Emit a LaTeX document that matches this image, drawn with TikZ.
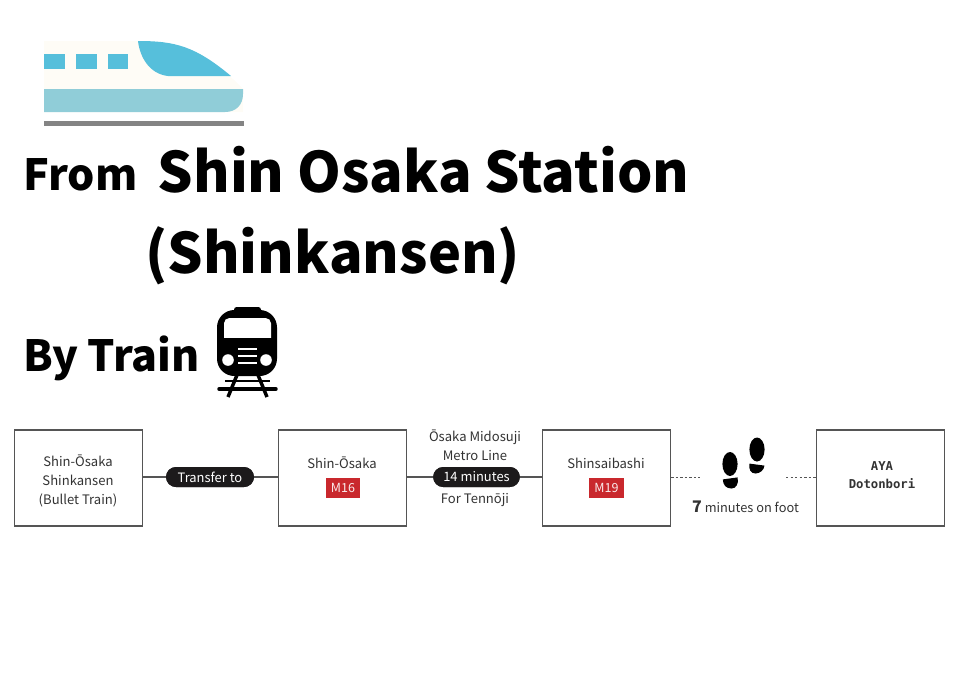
\documentclass[tikz,border=0pt]{standalone}
\usepackage{fontspec}
\setmainfont{Noto Sans CJK JP}
\newfontfamily\monofont{DejaVu Sans Mono}
\usepackage{tikz}

\definecolor{trainblue}{HTML}{56BFDB}
\definecolor{stripeblue}{HTML}{90CDD8}
\definecolor{railgrey}{HTML}{848484}
\definecolor{bodycream}{HTML}{FEFCF6}
\definecolor{tagred}{HTML}{C9282D}
\definecolor{pillblack}{HTML}{1C1A1B}
\definecolor{boxgrey}{HTML}{555555}
\definecolor{textgrey}{HTML}{333333}

\tikzset{
  stopbox/.style={draw=boxgrey,line width=.9pt,fill=white,minimum width=96pt,minimum height=72pt,inner sep=0pt},
  pill/.style={rounded corners=7.5pt,fill=pillblack,text=white,font=\fontsize{9.7}{11}\selectfont,minimum height=15pt,inner sep=0pt},
  tag/.style={fill=tagred,text=white!90!tagred,font=\fontsize{9.4}{11}\selectfont,minimum height=15pt,inner sep=0pt},
  label/.style={text=textgrey,font=\fontsize{9.8}{14.4}\selectfont,align=center,inner sep=0pt},
  title/.style={anchor=base west,inner sep=0pt,text=black,font=\fontsize{41.8}{50}\selectfont\bfseries},
  subtitle/.style={anchor=base west,inner sep=0pt,text=black,font=\fontsize{32.2}{36}\selectfont\bfseries},
  link/.style={draw=boxgrey,line width=.9pt},
  walk/.style={draw=boxgrey,line width=.7pt,dash pattern=on 1.8pt off 1.6pt}
}

\begin{document}
\begin{tikzpicture}[x=.75pt,y=-.75pt]
\useasboundingbox (0,0) rectangle (959,683);

% bullet train
\fill[bodycream] (44,41) -- (138,41) .. controls (190,41) and (215,60) .. (243,89) -- (243,112) -- (44,112) -- cycle;
\fill[trainblue] (44,54) rectangle (65,69);
\fill[trainblue] (76,54) rectangle (97,69);
\fill[trainblue] (108,54) rectangle (128,69);
\fill[trainblue] (138,41) .. controls (175,41) and (195,46) .. (231,76) -- (168,76) .. controls (150,74) and (140,58) .. cycle;
\fill[stripeblue] (44,89) -- (243,89) -- (243,94) .. controls (243,105) and (236,112) .. (225,112) -- (44,112) -- cycle;
\fill[railgrey] (44,121) rectangle (244,126);

% titles
\node[subtitle] (from) at (23,190) {From};
\node[title] (station) at (157.5,192) {Shin Osaka Station};
\node[title] (shinkansen) at (145,273) {(Shinkansen)};
\node[subtitle] (bytrain) at (23,371) {By Train};

% local train
\fill[black,rounded corners=2pt] (234,307) rectangle (261,314);
\fill[black,rounded corners=13pt] (217,310) rectangle (277,376);
\fill[white,rounded corners=4pt] (224,318) rectangle (271,345);
\fill[black] (222,338) rectangle (273,346);
\fill[white] (228,360) circle (5.8);
\fill[white] (266,360) circle (5.8);
\foreach \y in {349,356,363}
  \draw[white,line width=1pt] (238,\y) -- (257,\y);
\draw[black,line width=2.6pt] (237,375) -- (228,397);
\draw[black,line width=2.6pt] (258,375) -- (267,397);
\draw[black,line width=2pt] (225,381) -- (270,381);
\draw[black,line width=2.6pt,line cap=round] (219,389) -- (276,389);

% stops
\node[stopbox] (bullet) at (78.5,478) {};
\node[stopbox] (shinosaka) at (342.5,478) {};
\node[stopbox] (shinsaibashi) at (606.5,478) {};
\node[stopbox] (aya) at (880.5,478) {};

\node[label] (bullettext) at (78,481) {Shin-Ōsaka\\Shinkansen\\(Bullet Train)};
\node[label] (shinosakatext) at (342,463) {Shin-Ōsaka};
\node[tag,minimum width=25.5pt] (m16) at (343,488) {M16};
\node[label] (shinsaibashitext) at (606,463) {Shinsaibashi};
\node[tag,minimum width=26pt] (m19) at (606.5,488) {M19};
\node[label,font=\fontsize{9.2}{13.6}\selectfont\monofont\bfseries] (ayatext) at (882,475.5) {AYA\\Dotonbori};

% connectors
\node[pill,minimum width=66pt] (transfer) at (210,477) {Transfer to};
\node[pill,minimum width=65pt] (minutes) at (476.5,477) {14 minutes};
\draw[link] (bullet.east |- transfer) -- (transfer);
\draw[link] (transfer) -- (shinosaka.west |- transfer);
\draw[link] (shinosaka.east |- minutes) -- (minutes);
\draw[link] (minutes) -- (shinsaibashi.west |- minutes);
\node[pill,minimum width=66pt] at (transfer) {Transfer to};
\node[pill,minimum width=65pt] at (minutes) {14 minutes};

\node[label] (metro) at (475,445) {Ōsaka Midosuji\\Metro Line};
\node[label] (tennoji) at (475,500) {For Tennōji};

% walking
\coordinate (walkstart) at (700,477);
\coordinate (walkend) at (786,477);
\draw[walk] (shinsaibashi.east |- walkstart) -- (walkstart);
\draw[walk] (walkend) -- (aya.west |- walkend);
\fill[black] (730,464) ellipse (7.6 and 12);
\fill[black] (722.8,479.4) -- (737.6,477.4) .. controls (739,484) and (736,488.5) .. (731.5,488.5) .. controls (726,488.5) and (723,485) .. cycle;
\fill[black] (757,449.5) ellipse (7.6 and 12);
\fill[black] (749.5,463.6) -- (764.5,465.6) .. controls (764,470) and (760,473.5) .. (755.5,473.5) .. controls (750.5,473.5) and (748.5,469) .. cycle;
\node[label,font=\fontsize{9.6}{11}\selectfont] (onfoot) at (745.5,507) {{\fontsize{12}{12}\selectfont\bfseries 7} minutes on foot};
\end{tikzpicture}
\end{document}
